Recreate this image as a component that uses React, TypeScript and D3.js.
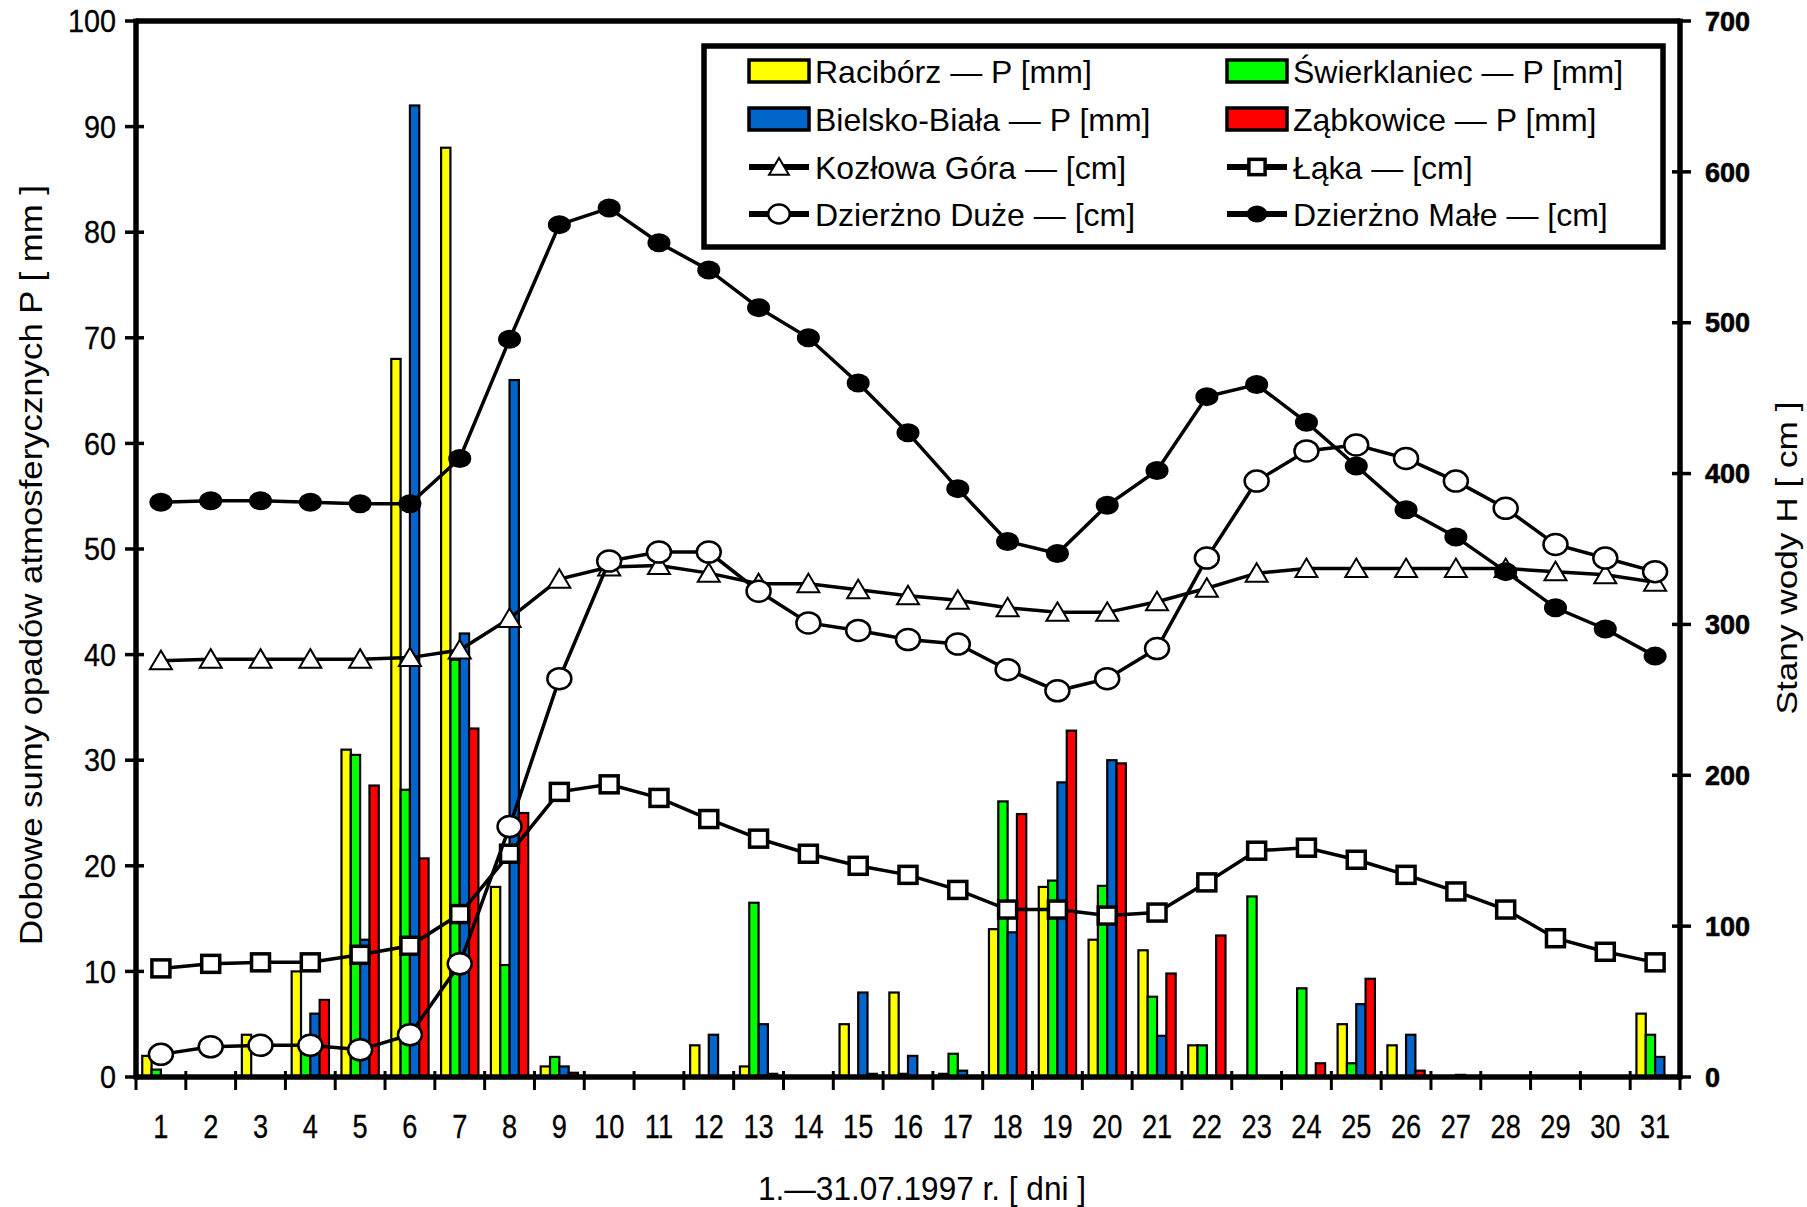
import React from "react";
import * as d3 from "d3";

const days = [1,2,3,4,5,6,7,8,9,10,11,12,13,14,15,16,17,18,19,20,21,22,23,24,25,26,27,28,29,30,31];

// Daily precipitation P [mm]
const raciborz =     [2,0,4,10,31,68,88,18,1,0,0,3,1,0,5,8,0.3,14,18,13,12,3,0,0,5,3,0,0,0,0,6];
const swierklaniec = [0.7,0,0,3,30.5,27.2,39.5,10.6,1.9,0,0,0,16.5,0,0,0.3,2.2,26.1,18.6,18.1,7.6,3,17.1,8.4,1.3,0,0,0,0,0,4];
const bielsko =      [0,0,0,6,13,92,42,66,1,0,0,4,5,0,8,2,0.6,13.7,27.9,30,3.9,0,0,0,6.9,4,0.2,0,0,0,1.9];
const zabkowice =    [0,0,0,7.3,27.6,20.7,33,25,0.4,0,0,0,0.3,0,0.3,0,0,24.9,32.8,29.7,9.8,13.4,0,1.3,9.3,0.6,0,0,0,0,0];

// Water levels H [cm]
const kozlowa = [276,277,277,277,277,278,283,304,330,338,339,334,327,327,323,319,316,311,308,308,315,324,334,337,337,337,337,337,335,333,328];
const laka =    [72,75,76,76,81,87,108,148,189,194,185,171,158,148,140,134,124,111,111,107,109,129,150,152,144,134,123,111,92,83,76];
const dzDuze =  [15,20,21,21,18,28,75,166,264,342,348,348,322,301,296,290,287,270,256,264,284,344,395,415,419,410,395,377,353,344,335];
const dzMale =  [381,382,382,381,380,380,410,489,565,576,553,535,510,490,460,427,390,355,347,379,402,451,459,434,405,376,358,335,311,297,279];

const leftTicks = [0,10,20,30,40,50,60,70,80,90,100];
const rightTicks = [0,100,200,300,400,500,600,700];

const barSeries = [
  { key: "r", name: "Racibórz — P [mm]", values: raciborz, color: "#FFFF00" },
  { key: "s", name: "Świerklaniec — P [mm]", values: swierklaniec, color: "#00FF00" },
  { key: "b", name: "Bielsko-Biała — P [mm]", values: bielsko, color: "#0066CC" },
  { key: "z", name: "Ząbkowice — P [mm]", values: zabkowice, color: "#FF0000" },
];
const lineSeries = [
  { key: "kg", name: "Kozłowa Góra — [cm]", values: kozlowa, marker: "triangle" },
  { key: "la", name: "Łąka — [cm]", values: laka, marker: "square" },
  { key: "dd", name: "Dzierżno Duże — [cm]", values: dzDuze, marker: "circle" },
  { key: "dm", name: "Dzierżno Małe — [cm]", values: dzMale, marker: "dot" },
];

const SANS = "'Liberation Sans', Arial, sans-serif";

function Marker({ type, cx, cy, s = 1 }: { type: string; cx: number; cy: number; s?: number }) {
  if (type === "dot") return <ellipse cx={cx} cy={cy} rx={11.5 * s} ry={9.5 * s} fill="#000" />;
  if (type === "circle") return <ellipse cx={cx} cy={cy} rx={12 * s} ry={10.5 * s} fill="#fff" stroke="#000" strokeWidth={2.5} />;
  if (type === "square") return <rect x={cx - 9 * s} y={cy - 8.5 * s} width={18 * s} height={17 * s} fill="#fff" stroke="#000" strokeWidth={3.5} />;
  return <path d={`M${cx},${cy - 10 * s}L${cx + 11 * s},${cy + 8.5 * s}L${cx - 11 * s},${cy + 8.5 * s}Z`} fill="#fff" stroke="#000" strokeWidth={2} />;
}

export default function App() {
  const W = 1807, H = 1207;
  const L = 136, R = 1680, T = 21, B = 1077;
  const x = d3.scaleBand<number>().domain(days).range([L, R]).padding(0);
  const bw = x.bandwidth();
  const xs = d3.scaleBand<string>().domain(barSeries.map(s => s.key)).range([0, bw]).paddingInner(0).paddingOuter(0.67);
  const yL = d3.scaleLinear().domain([0, 100]).range([B, T]);
  const yR = d3.scaleLinear().domain([0, 700]).range([B, T]);
  const cx = (d: number) => (x(d) as number) + bw / 2;
  const line = d3.line<number>().x((_, i) => cx(days[i])).y(v => yR(v));
  const bounds = days.map(d => x(d) as number).concat([R]);

  const lgX1 = 749, lgX2 = 1227, lgRows = [71, 119, 167, 214];

  return (
    <svg width={W} height={H} style={{ position: "absolute", left: 0, top: 0, background: "#fff" }}>
      <rect x={0} y={0} width={W} height={H} fill="#fff" />
      {/* bars */}
      {barSeries.map(s => (
        <g key={s.key}>
          {s.values.map((v, i) => v > 0 ? (
            <rect key={i} x={(x(days[i]) as number) + (xs(s.key) as number)} y={yL(v)} width={xs.bandwidth()} height={yL(0) - yL(v)}
              fill={s.color} stroke="#000" strokeWidth={2.2} />
          ) : null)}
        </g>
      ))}
      {/* lines */}
      {lineSeries.map(s => (
        <g key={s.key}>
          <path d={line(s.values) || ""} fill="none" stroke="#000" strokeWidth={3.5} />
          {s.values.map((v, i) => <Marker key={i} type={s.marker} cx={cx(days[i])} cy={yR(v)} />)}
        </g>
      ))}
      {/* axes */}
      <line x1={L} x2={R} y1={T} y2={T} stroke="#000" strokeWidth={5.5} />
      <line x1={L} x2={R} y1={B} y2={B} stroke="#000" strokeWidth={5.5} />
      <line x1={L} x2={L} y1={T - 2.5} y2={B + 2.5} stroke="#000" strokeWidth={5.5} />
      <line x1={R} x2={R} y1={T - 2.5} y2={B + 2.5} stroke="#000" strokeWidth={5.5} />
      {leftTicks.map(t => (
        <g key={t}>
          <line x1={L - 11} x2={L + 8} y1={yL(t)} y2={yL(t)} stroke="#000" strokeWidth={3.5} />
          <text x={L - 20} y={yL(t)} dy="0.36em" textAnchor="end" fontFamily={SANS} fontSize={31} stroke="#000" strokeWidth={0.3}
            transform={`translate(${L - 20},0) scale(0.93,1) translate(${-(L - 20)},0)`}>{t}</text>
        </g>
      ))}
      {rightTicks.map(t => (
        <g key={t}>
          <line x1={R - 8} x2={R + 11} y1={yR(t)} y2={yR(t)} stroke="#000" strokeWidth={3.5} />
          <text x={R + 25} y={yR(t)} dy="0.36em" textAnchor="start" fontFamily={SANS} fontWeight="bold" fontSize={27}
            stroke="#000" strokeWidth={0.6}>{t}</text>
        </g>
      ))}
      {bounds.map((b, i) => (
        <line key={i} x1={b} x2={b} y1={B - 6} y2={B + 13} stroke="#000" strokeWidth={3} />
      ))}
      {days.map(d => (
        <text key={d} transform={`translate(${cx(d)},1138) scale(0.8,1)`} textAnchor="middle" fontFamily={SANS} fontSize={34}
          stroke="#000" strokeWidth={0.3}>{d}</text>
      ))}
      <text x={922} y={1200} textAnchor="middle" fontFamily={SANS} fontSize={33} textLength={328} lengthAdjust="spacingAndGlyphs">1.—31.07.1997 r. [ dni ]</text>
      <text transform="translate(42,565) rotate(-90)" textAnchor="middle" fontFamily={SANS} fontSize={31}
        textLength={760} lengthAdjust="spacingAndGlyphs">Dobowe sumy opadów atmosferycznych P [ mm ]</text>
      <text transform="translate(1797,558) rotate(-90)" textAnchor="middle" fontFamily={SANS} fontSize={30}
        textLength={313} lengthAdjust="spacingAndGlyphs">Stany wody H [ cm ]</text>
      {/* legend */}
      <rect x={704} y={46} width={959} height={201} fill="#fff" stroke="#000" strokeWidth={5.5} />
      {barSeries.map((s, i) => {
        const lx = i % 2 === 0 ? lgX1 : lgX2;
        const ly = lgRows[Math.floor(i / 2)];
        return (
          <g key={s.key}>
            <rect x={lx} y={ly - 11} width={60} height={22} fill={s.color} stroke="#000" strokeWidth={3.5} />
            <text x={lx + 66} y={ly} dy="0.36em" fontFamily={SANS} fontSize={32}>{s.name}</text>
          </g>
        );
      })}
      {lineSeries.map((s, i) => {
        const lx = i % 2 === 0 ? lgX1 : lgX2;
        const ly = lgRows[2 + Math.floor(i / 2)];
        return (
          <g key={s.key}>
            <line x1={lx} x2={lx + 60} y1={ly} y2={ly} stroke="#000" strokeWidth={6} />
            <Marker type={s.marker} cx={lx + 30} cy={ly} s={0.9} />
            <text x={lx + 66} y={ly} dy="0.36em" fontFamily={SANS} fontSize={32}>{s.name}</text>
          </g>
        );
      })}
    </svg>
  );
}
